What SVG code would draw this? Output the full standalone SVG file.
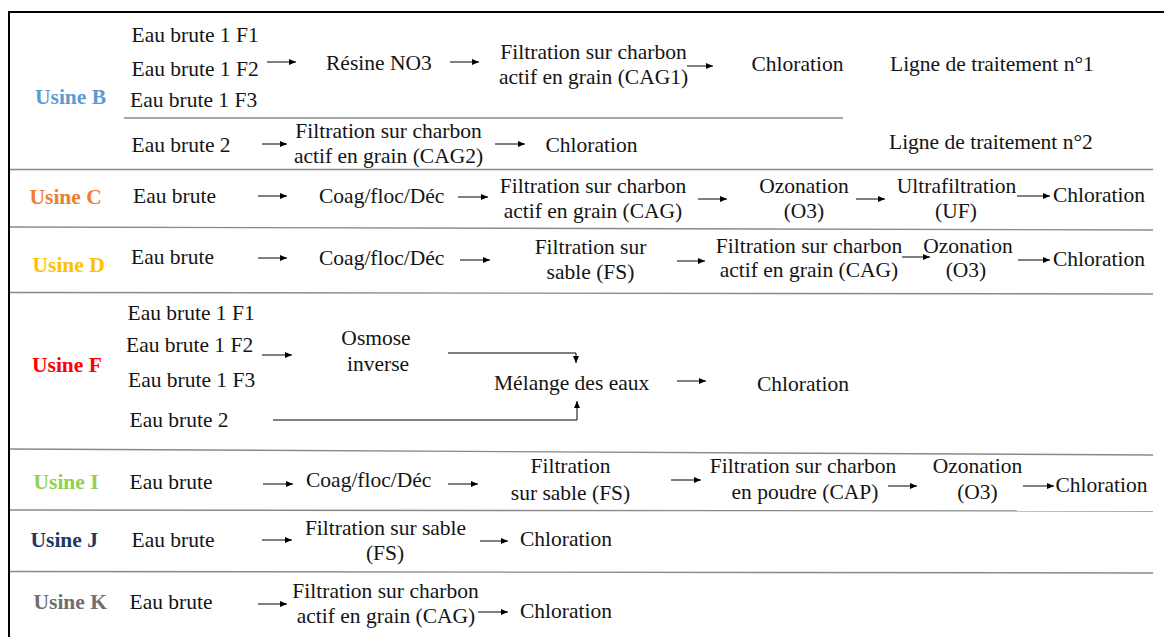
<svg xmlns="http://www.w3.org/2000/svg" width="1164" height="637" viewBox="0 0 1164 637" font-family="Liberation Serif, Tinos, Times New Roman, DejaVu Serif, serif">
<style>
text{font-family:'Liberation Serif','Tinos','Times New Roman','DejaVu Serif',serif;font-size:21.5px;fill:#141414}
.u{font-weight:bold}
.m{text-anchor:middle}
.sep{stroke:#8a8a8a;stroke-width:1.4;fill:none}
.a{stroke:#000;stroke-width:1;fill:none;marker-end:url(#ah)}
</style>
<defs>
<marker id="ah" markerUnits="userSpaceOnUse" markerWidth="7" markerHeight="6" refX="7" refY="3" orient="auto">
<path d="M0,0 L7,3 L0,6 z" fill="#000"/>
</marker>
</defs>
<rect width="1164" height="637" fill="#fff"/>
<g id="frame">
<line x1="8" y1="12" x2="1164" y2="12" stroke="#000" stroke-width="2"/>
<line x1="9" y1="11" x2="9" y2="637" stroke="#000" stroke-width="2"/>
<line class="sep" x1="124" y1="118" x2="843" y2="118"/>
<line class="sep" x1="10" y1="169.5" x2="1153" y2="169.5"/>
<line class="sep" x1="10" y1="227" x2="1153" y2="230"/>
<line class="sep" x1="10" y1="292.5" x2="1153" y2="294"/>
<line class="sep" x1="10" y1="449" x2="1153" y2="455"/>
<line class="sep" x1="10" y1="510" x2="1153" y2="511"/>
<line class="sep" x1="10" y1="571.5" x2="1153" y2="573"/>
</g>
<g id="connectors">
<line class="a" x1="267" y1="62" x2="296" y2="62"/>
<line class="a" x1="450" y1="62" x2="479" y2="62"/>
<line class="a" x1="687" y1="66" x2="713" y2="66"/>
<line class="a" x1="262" y1="144" x2="287" y2="144"/>
<line class="a" x1="495" y1="144" x2="525" y2="144"/>
<line class="a" x1="258" y1="196" x2="287" y2="196"/>
<line class="a" x1="458" y1="197" x2="488" y2="197"/>
<line class="a" x1="698" y1="199" x2="727" y2="199"/>
<line class="a" x1="856" y1="199" x2="885" y2="199"/>
<line class="a" x1="1017" y1="196" x2="1050" y2="196"/>
<line class="a" x1="258" y1="258" x2="287" y2="258"/>
<line class="a" x1="460" y1="260" x2="490" y2="260"/>
<line class="a" x1="677" y1="261" x2="705" y2="261"/>
<line class="a" x1="902" y1="257" x2="930" y2="257"/>
<line class="a" x1="1018" y1="260" x2="1050" y2="260"/>
<line class="a" x1="262" y1="355" x2="292" y2="355"/>
<polyline class="a" points="448,353 576,353 576,363"/>
<polyline class="a" points="273,420 577,420 577,401"/>
<line class="a" x1="677" y1="381" x2="706" y2="381"/>
<line class="a" x1="263" y1="484" x2="293" y2="484"/>
<line class="a" x1="448" y1="484" x2="478" y2="484"/>
<line class="a" x1="671" y1="480" x2="701" y2="480"/>
<line class="a" x1="888" y1="486" x2="917" y2="486"/>
<line class="a" x1="1023" y1="486" x2="1054" y2="486"/>
<line class="a" x1="262" y1="540" x2="292" y2="540"/>
<line class="a" x1="480" y1="541" x2="508" y2="541"/>
<line class="a" x1="258" y1="604" x2="287" y2="604"/>
<line class="a" x1="478" y1="612" x2="508" y2="612"/>
</g>
<g id="usineB">
<text class="u" x="35" y="104" style="fill:#5B9BD5">Usine B</text>
<text x="131.5" y="42">Eau brute 1 F1</text>
<text x="131.5" y="76">Eau brute 1 F2</text>
<text x="130" y="107">Eau brute 1 F3</text>
<text x="326" y="70">Résine NO3</text>
<text class="m" x="593.5" y="59">Filtration sur charbon</text>
<text class="m" x="593.5" y="84">actif en grain (CAG1)</text>
<text x="751.5" y="71">Chloration</text>
<text x="890" y="71">Ligne de traitement n°1</text>
<text x="131.5" y="152">Eau brute 2</text>
<text class="m" x="388.5" y="138">Filtration sur charbon</text>
<text class="m" x="388.5" y="163">actif en grain (CAG2)</text>
<text x="545.5" y="152">Chloration</text>
<text x="889" y="149">Ligne de traitement n°2</text>
</g>
<g id="usineC">
<text class="u" x="29.5" y="204" style="fill:#ED7D31">Usine C</text>
<text x="133" y="203">Eau brute</text>
<text x="319" y="203">Coag/floc/Déc</text>
<text class="m" x="593" y="193">Filtration sur charbon</text>
<text class="m" x="593" y="218">actif en grain (CAG)</text>
<text class="m" x="804" y="193">Ozonation</text>
<text class="m" x="804" y="218">(O3)</text>
<text class="m" x="956.5" y="193">Ultrafiltration</text>
<text class="m" x="956" y="218">(UF)</text>
<text x="1053" y="202">Chloration</text>
</g>
<g id="usineD">
<text class="u" x="32.5" y="272" style="fill:#FFC000">Usine D</text>
<text x="131" y="264">Eau brute</text>
<text x="319" y="265">Coag/floc/Déc</text>
<text class="m" x="590.5" y="254">Filtration sur</text>
<text class="m" x="590.5" y="279">sable (FS)</text>
<text class="m" x="809" y="253">Filtration sur charbon</text>
<text class="m" x="809" y="277">actif en grain (CAG)</text>
<text class="m" x="968" y="253">Ozonation</text>
<text class="m" x="966" y="277">(O3)</text>
<text x="1053" y="266">Chloration</text>
</g>
<g id="usineF">
<text class="u" x="32" y="372" style="fill:#FF0000">Usine F</text>
<text x="127.5" y="320">Eau brute 1 F1</text>
<text x="126" y="352">Eau brute 1 F2</text>
<text x="128" y="387">Eau brute 1 F3</text>
<text x="129.5" y="427">Eau brute 2</text>
<text class="m" x="376" y="345">Osmose</text>
<text class="m" x="378" y="371">inverse</text>
<text x="494" y="390">Mélange des eaux</text>
<text x="757" y="391">Chloration</text>
</g>
<g id="usineI">
<text class="u" x="33.5" y="489" style="fill:#92D050">Usine I</text>
<text x="129.5" y="489">Eau brute</text>
<text x="306" y="487">Coag/floc/Déc</text>
<text class="m" x="570.5" y="473">Filtration</text>
<text class="m" x="570.5" y="500">sur sable (FS)</text>
<text class="m" x="803" y="473">Filtration sur charbon</text>
<text class="m" x="805" y="499">en poudre (CAP)</text>
<text class="m" x="977.5" y="473">Ozonation</text>
<text class="m" x="977.5" y="499">(O3)</text>
<text x="1055.5" y="492">Chloration</text>
</g>
<g id="usineJ">
<text class="u" x="30.5" y="547" style="fill:#1F3864">Usine J</text>
<text x="131.5" y="547">Eau brute</text>
<text class="m" x="385.5" y="535">Filtration sur sable</text>
<text class="m" x="385" y="560">(FS)</text>
<text x="520" y="546">Chloration</text>
</g>
<g id="usineK">
<text class="u" x="33.5" y="609" style="fill:#6E6E6E">Usine K</text>
<text x="129.5" y="609">Eau brute</text>
<text class="m" x="385.5" y="598">Filtration sur charbon</text>
<text class="m" x="386" y="623">actif en grain (CAG)</text>
<text x="520" y="618">Chloration</text>
</g>
</svg>
